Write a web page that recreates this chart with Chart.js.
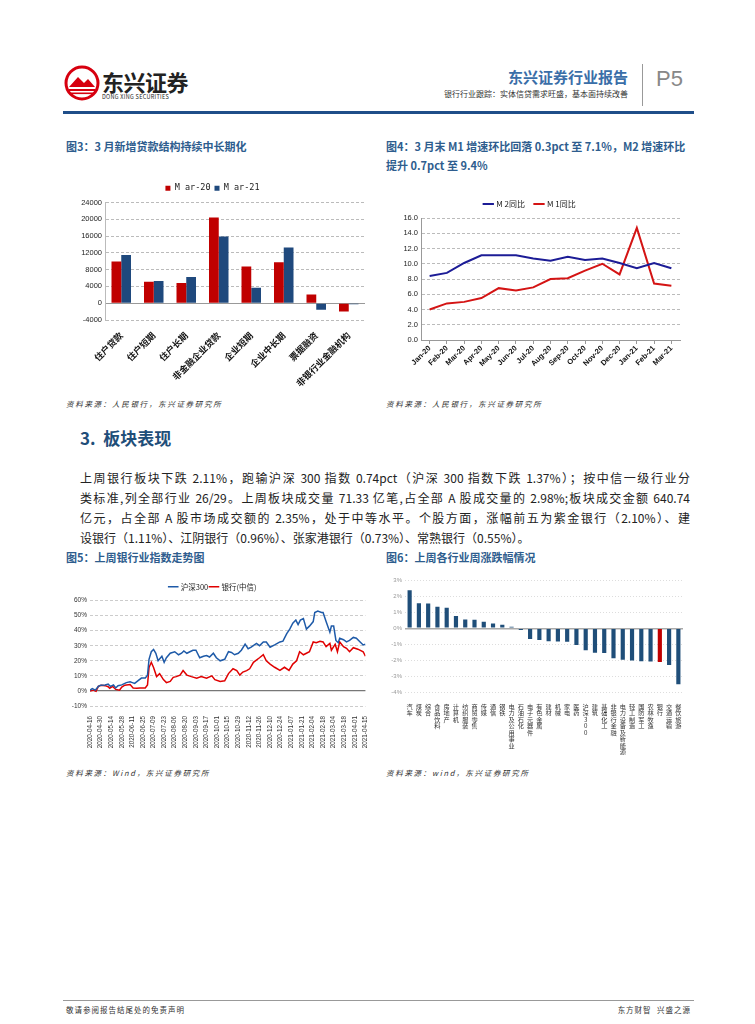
<!DOCTYPE html>
<html lang="zh-CN">
<head>
<meta charset="UTF-8">
<title>银行行业跟踪 | 东兴证券</title>
<script src="https://cdn.jsdelivr.net/npm/chart.js"></script>
<style>
  body { margin: 0; background: #fff; font-family: "Noto Sans CJK SC", sans-serif; }
  .page { position: relative; width: 755px; height: 1024px; overflow: hidden; background: #fff; }
  .abs { position: absolute; white-space: nowrap; }
  .figtitle { color: #2e5d8e; font-weight: bold; font-size: 11px; }
  .src { font-size: 7.5px; font-style: italic; color: #333; letter-spacing: 1.7px; }
  .para { position: absolute; left: 80px; width: 610px; font-size: 12px; color: #222;
          white-space: nowrap; text-align: justify; text-align-last: justify; }
  canvas { position: absolute; }
</style>
</head>
<body>
<div class="page">

  <!-- header -->
  <svg class="abs" style="left:64px;top:65px" width="36" height="36" viewBox="0 0 36 36">
    <circle cx="18" cy="18" r="16" fill="#fff" stroke="#d7000f" stroke-width="3"/>
    <polygon points="5,22 14,12 20,18 24,14 31,22" fill="#d7000f"/>
    <rect x="5" y="24" width="26" height="2" fill="#d7000f"/>
    <rect x="7" y="27.5" width="22" height="1.6" fill="#d7000f"/>
  </svg>
  <div class="abs" style="left:102px;top:65px;font-size:22px;font-weight:bold;color:#222;letter-spacing:-0.5px">东兴证券</div>
  <div class="abs" style="left:102px;top:93px;font-size:5.5px;color:#222;letter-spacing:0.3px">DONG XING SECURITIES</div>
  <div class="abs" style="right:127px;top:66px;font-size:15px;font-weight:bold;color:#3a6ea8">东兴证券行业报告</div>
  <div class="abs" style="right:127px;top:88px;font-size:8px;color:#333">银行行业跟踪：实体信贷需求旺盛，基本面持续改善</div>
  <div class="abs" style="left:642px;top:64px;width:1px;height:42px;background:#999"></div>
  <div class="abs" style="left:656px;top:66px;font-size:22px;color:#888;font-family:'Liberation Sans',sans-serif">P5</div>
  <div class="abs" style="left:63px;top:111px;width:631px;height:3px;background:#1f4e89"></div>

  <!-- figure 3 & 4 -->
  <div class="abs figtitle" style="left:66px;top:138px">图3：3 月新增贷款结构持续中长期化</div>
  <div class="abs figtitle" style="left:386px;top:138px">图4：3 月末 M1 增速环比回落 0.3pct 至 7.1%，M2 增速环比</div>
  <div class="abs figtitle" style="left:386px;top:157px">提升 0.7pct 至 9.4%</div>
  <canvas id="c3" width="310" height="210" style="left:60px;top:180px"></canvas>
  <canvas id="c4" width="310" height="190" style="left:380px;top:190px"></canvas>
  <div class="abs src" style="left:66px;top:398px">资料来源：人民银行，东兴证券研究所</div>
  <div class="abs src" style="left:386px;top:398px">资料来源：人民银行，东兴证券研究所</div>

  <!-- section 3 -->
  <div class="abs" style="left:80px;top:425px;font-size:17px;font-weight:bold;color:#1f4e79">3.&nbsp; 板块表现</div>
  <div class="para" style="top:469px">上周银行板块下跌 2.11%，跑输沪深 300 指数 0.74pct（沪深 300 指数下跌 1.37%）；按中信一级行业分</div>
  <div class="para" style="top:489px">类标准,列全部行业 26/29。上周板块成交量 71.33 亿笔,占全部 A 股成交量的 2.98%;板块成交金额 640.74</div>
  <div class="para" style="top:509px">亿元，占全部 A 股市场成交额的 2.35%，处于中等水平。个股方面，涨幅前五为紫金银行（2.10%）、建</div>
  <div class="para" style="top:529px;text-align-last:left">设银行（1.11%）、江阴银行（0.96%）、张家港银行（0.73%）、常熟银行（0.55%）。</div>

  <!-- figure 5 & 6 -->
  <div class="abs figtitle" style="left:66px;top:549px">图5：上周银行业指数走势图</div>
  <div class="abs figtitle" style="left:386px;top:549px">图6：上周各行业周涨跌幅情况</div>
  <canvas id="c5" width="315" height="170" style="left:60px;top:581px"></canvas>
  <canvas id="c6" width="320" height="185" style="left:380px;top:574px"></canvas>
  <div class="abs src" style="left:66px;top:767px">资料来源：Wind，东兴证券研究所</div>
  <div class="abs src" style="left:386px;top:767px">资料来源：wind，东兴证券研究所</div>

  <!-- footer -->
  <div class="abs" style="left:63px;top:1000px;width:631px;height:1px;background:#999"></div>
  <div class="abs" style="left:66px;top:1004px;font-size:7.5px;color:#333;letter-spacing:1px">敬请参阅报告结尾处的免责声明</div>
  <div class="abs" style="right:64px;top:1004px;font-size:7.5px;color:#333;letter-spacing:1px">东方财智&nbsp; 兴盛之源</div>
</div>

<script>
  // 图3 新增贷款结构（亿元）
  const loanCats = ['住户贷款', '住户短期', '住户长期', '非金融企业贷款', '企业短期', '企业中长期', '票据融资', '非银行业金融机构'];
  const loanMar20 = [9912, 5113, 4798, 20400, 8751, 9732, 2081, -2000];
  const loanMar21 = [11500, 5290, 6230, 15900, 3710, 13250, -1580, -240];

  // 图4 M1/M2 同比（%）
  const moneyMonths = ['Jan-20', 'Feb-20', 'Mar-20', 'Apr-20', 'May-20', 'Jun-20', 'Jul-20', 'Aug-20',
                       'Sep-20', 'Oct-20', 'Nov-20', 'Dec-20', 'Jan-21', 'Feb-21', 'Mar-21'];
  const m2Yoy = [8.4, 8.8, 10.1, 11.1, 11.1, 11.1, 10.7, 10.4, 10.9, 10.5, 10.7, 10.1, 9.4, 10.1, 9.4];
  const m1Yoy = [4.0, 4.8, 5.0, 5.5, 6.8, 6.5, 6.9, 8.0, 8.1, 9.1, 10.0, 8.6, 14.7, 7.4, 7.1];

  // 图5 指数走势：距 2020-04-16 的天数 与 累计涨幅（%）
  const trendTicks = ['2020-04-16', '2020-04-30', '2020-05-14', '2020-05-28', '2020-06-11', '2020-06-25',
                      '2020-07-09', '2020-07-23', '2020-08-06', '2020-08-20', '2020-09-03', '2020-09-17',
                      '2020-10-01', '2020-10-15', '2020-10-29', '2020-11-12', '2020-11-26', '2020-12-10',
                      '2020-12-24', '2021-01-07', '2021-01-21', '2021-02-04', '2021-02-18', '2021-03-04',
                      '2021-03-18', '2021-04-01', '2021-04-15'];
  const hsDays = [0, 3, 7, 11, 14, 20, 24, 27, 31, 34, 37, 42, 48, 53, 56, 59, 64, 68, 73, 76, 78, 81, 84, 87, 90,
                  95, 98, 101, 106, 112, 117, 121, 124, 128, 132, 136, 140, 145, 150, 154, 158, 163, 167, 172, 178,
                  183, 187, 191, 196, 200, 205, 209, 213, 220, 224, 229, 233, 238, 244, 251, 255, 260, 264, 268,
                  272, 275, 278, 282, 286, 290, 295, 297, 301, 306, 308, 312, 317, 319, 322, 325, 328, 330, 335,
                  339, 343, 348, 352, 357, 361, 364];
  const hsVals = [0.5, 1.5, 0.5, 3, 3.8, 4, 4.5, 3, 4, 2, 3.5, 4, 5.5, 6, 5.5, 5, 7, 8.5, 8.5, 10.5, 21, 26, 27.5,
                  25, 20, 23, 19, 22, 25, 26, 24, 25, 26.5, 25, 26, 27, 27, 22, 23, 23.5, 22.5, 25, 22, 20, 21,
                  26, 25.5, 24, 25, 27, 31, 28, 29, 31.5, 30, 32.5, 32.5, 29, 30.5, 32.5, 33, 38, 41, 45, 47, 44,
                  47, 48, 41, 43, 46, 52, 53, 52, 52, 46, 39, 43, 43, 33.5, 32, 35, 34, 32.5, 33.5, 35.5, 35, 32.5,
                  30.5, 31];
  const bankDays = [0, 4, 8, 11, 15, 20, 24, 26, 30, 34, 39, 42, 46, 53, 57, 62, 66, 73, 76, 78, 81, 84, 88, 92,
                    97, 101, 106, 110, 114, 119, 123, 128, 134, 141, 147, 154, 161, 165, 172, 178, 183, 189, 194,
                    198, 202, 207, 211, 216, 224, 229, 233, 238, 244, 251, 257, 263, 268, 273, 277, 282, 286, 290,
                    295, 299, 304, 308, 312, 317, 319, 324, 327, 330, 335, 339, 343, 348, 354, 361, 364];
  const bankVals = [0, 0.5, -0.3, 3, 3.8, 3.5, 2.8, 1.8, 3, 1, 0.5, 2.5, 3.8, 4.2, 2, 1.7, 2, 2, 4, 15.5, 19, 15.5,
                    9.5, 11.5, 7.5, 5.5, 6.3, 9, 9.5, 10.5, 13.5, 10.5, 9.5, 8.5, 9.5, 8.5, 10, 7.5, 6.3, 6.7,
                    11.5, 14.7, 13.5, 10.5, 12.5, 13.5, 14.7, 19, 22, 24, 20, 17.8, 15.7, 13.6, 15.7, 13.6, 17.8,
                    20, 26, 24, 25, 26, 32.5, 32, 33, 32.5, 29.4, 31.5, 27, 31, 26, 32.5, 29.4, 28.3, 26, 28.7,
                    27.7, 26, 23];

  // 图6 各行业周涨跌幅（%）
  const indCats = ['汽车', '煤炭', '综合', '食品饮料', '房地产', '计算机', '纺织服装', '商贸零售', '传媒', '通信',
                   '钢铁', '电力及公用事业', '石油石化', '电子元器件', '有色金属', '建材', '机械', '家电', '医药',
                   '沪深300', '建筑', '基础化工', '非银行金融', '电力设备及新能源', '轻工制造', '国防军工',
                   '农林牧渔', '银行', '交通运输', '餐饮旅游'];
  const indChange = [2.40, 1.58, 1.56, 1.35, 1.29, 0.77, 0.56, 0.54, 0.42, 0.31, 0.23, 0.10, -0.10, -0.67, -0.73,
                     -0.81, -0.83, -0.84, -1.04, -1.37, -1.54, -1.55, -1.88, -1.98, -2.02, -2.06, -2.09, -2.11,
                     -2.31, -3.52];

  const CJK = '"Noto Sans CJK SC", sans-serif';
  Chart.defaults.font.family = CJK;
  Chart.defaults.animation = false;
  Chart.defaults.plugins.tooltip.enabled = false;

  const dashExceptZero = ctx => (ctx.tick && ctx.tick.value !== 0) ? [3, 2] : [];

  // 图3
  new Chart(document.getElementById('c3'), {
    type: 'bar',
    data: {
      labels: loanCats,
      datasets: [
        { label: 'M ar-20', data: loanMar20, backgroundColor: '#c00000', categoryPercentage: 0.6, barPercentage: 1 },
        { label: 'M ar-21', data: loanMar21, backgroundColor: '#1f497d', categoryPercentage: 0.6, barPercentage: 1 }
      ]
    },
    options: {
      responsive: false,
      layout: { padding: { right: 5, left: 0 } },
      plugins: {
        legend: { labels: { boxWidth: 5, boxHeight: 5, padding: 4, color: '#222', font: { size: 8.5, family: '"DejaVu Sans Mono", monospace' } } }
      },
      scales: {
        x: {
          grid: { display: false }, border: { display: false },
          ticks: { minRotation: 45, maxRotation: 45, autoSkip: false, padding: 2, color: '#111', font: { size: 9, weight: 'bold' } },
          afterFit: s => { s.height = 70; }
        },
        y: {
          min: -4000, max: 24000,
          ticks: { stepSize: 4000, callback: v => String(v), color: '#222', font: { size: 7.5, family: '"Liberation Sans", sans-serif' } },
          grid: { color: ctx => ctx.tick.value === 0 ? '#999' : '#bbb', drawTicks: false },
          border: { color: '#bbb', dash: dashExceptZero },
          afterFit: s => { s.width = 45; }
        }
      }
    }
  });

  // 图4
  new Chart(document.getElementById('c4'), {
    type: 'line',
    data: {
      labels: moneyMonths,
      datasets: [
        { label: 'M 2同比', data: m2Yoy, borderColor: '#1c1c96', backgroundColor: '#1c1c96', borderWidth: 2, pointRadius: 0, tension: 0 },
        { label: 'M 1同比', data: m1Yoy, borderColor: '#d41414', backgroundColor: '#d41414', borderWidth: 2, pointRadius: 0, tension: 0 }
      ]
    },
    options: {
      responsive: false,
      layout: { padding: { right: 10 } },
      plugins: {
        legend: { labels: { usePointStyle: true, pointStyle: 'line', boxWidth: 17, padding: 10, color: '#222', font: { size: 8 } } }
      },
      scales: {
        x: {
          offset: true,
          grid: { drawOnChartArea: false, drawTicks: true, tickLength: 4, color: '#999' },
          border: { color: '#999' },
          ticks: { minRotation: 45, maxRotation: 45, autoSkip: false, padding: 0, color: '#111', font: { size: 7.5, weight: 'bold', family: '"Liberation Sans", sans-serif' } },
          afterFit: s => { s.height = 40; }
        },
        y: {
          min: 0, max: 16,
          ticks: { stepSize: 2, callback: v => v.toFixed(1), color: '#222', font: { size: 7.5, family: '"Liberation Sans", sans-serif' } },
          grid: { color: '#bbb', drawTicks: false },
          border: { color: '#999', dash: dashExceptZero },
          afterFit: s => { s.width = 41; }
        }
      }
    }
  });

  // 图5
  const dayOf = d => Math.round((Date.parse(d) - Date.parse(trendTicks[0])) / 864e5);
  new Chart(document.getElementById('c5'), {
    type: 'line',
    data: {
      datasets: [
        { label: '沪深300', data: hsDays.map((d, i) => ({ x: d, y: hsVals[i] })), borderColor: '#1e5aa8', backgroundColor: '#1e5aa8', borderWidth: 1.5, pointRadius: 0, tension: 0 },
        { label: '银行(中信)', data: bankDays.map((d, i) => ({ x: d, y: bankVals[i] })), borderColor: '#e00000', backgroundColor: '#e00000', borderWidth: 1.5, pointRadius: 0, tension: 0 }
      ]
    },
    options: {
      responsive: false,
      layout: { padding: { right: 9 } },
      plugins: {
        legend: { labels: { usePointStyle: true, pointStyle: 'line', boxWidth: 15, padding: 2, color: '#222', font: { size: 7.5 } } }
      },
      scales: {
        x: {
          type: 'linear', min: 0, max: dayOf(trendTicks[trendTicks.length - 1]),
          afterBuildTicks: s => { s.ticks = trendTicks.map(d => ({ value: dayOf(d) })); },
          grid: { display: false }, border: { display: false },
          ticks: { autoSkip: false, minRotation: 90, maxRotation: 90, padding: 2, color: '#333',
                   callback: (v, i) => trendTicks[i], font: { size: 6.3, family: '"Liberation Sans", sans-serif' } },
          afterFit: s => { s.height = 45; }
        },
        y: {
          min: -10, max: 60,
          ticks: { stepSize: 10, callback: v => v + '%', color: '#333', font: { size: 6.5, family: '"Liberation Sans", sans-serif' } },
          grid: { color: ctx => ctx.tick.value === 0 ? '#777' : '#ccc', lineWidth: ctx => ctx.tick.value === 0 ? 1.2 : 1, drawTicks: false },
          border: { display: false, dash: dashExceptZero },
          afterFit: s => { s.width = 30; }
        }
      }
    }
  });

  // 图6
  new Chart(document.getElementById('c6'), {
    type: 'bar',
    data: {
      labels: indCats.map(c => (c === '沪深300' ? ['沪', '深', '3', '0', '0'] : c.split(''))),
      datasets: [{
        label: '周涨跌幅', data: indChange,
        backgroundColor: indCats.map(c => (c === '银行' ? '#c00000' : '#1f4e79')),
        categoryPercentage: 1, barPercentage: 0.45
      }]
    },
    options: {
      responsive: false,
      layout: { padding: { right: 17, top: 3 } },
      plugins: { legend: { display: false } },
      scales: {
        x: {
          grid: { display: false }, border: { display: false },
          ticks: { autoSkip: false, maxRotation: 0, minRotation: 0, padding: 3, color: '#333', font: { size: 6.2, lineHeight: 1.05 } },
          afterFit: s => { s.height = 67; }
        },
        y: {
          min: -4, max: 3,
          ticks: { stepSize: 1, callback: v => v + '%', color: '#999', font: { size: 6, family: '"Liberation Sans", sans-serif' } },
          grid: { color: ctx => ctx.tick.value === 0 ? '#aaa' : '#ddd', lineWidth: ctx => ctx.tick.value === 0 ? 1.5 : 1, drawTicks: false },
          border: { display: false, dash: ctx => (ctx.tick && ctx.tick.value !== 0) ? [1, 2] : [] },
          afterFit: s => { s.width = 25; }
        }
      }
    }
  });
</script>
</body>
</html>
